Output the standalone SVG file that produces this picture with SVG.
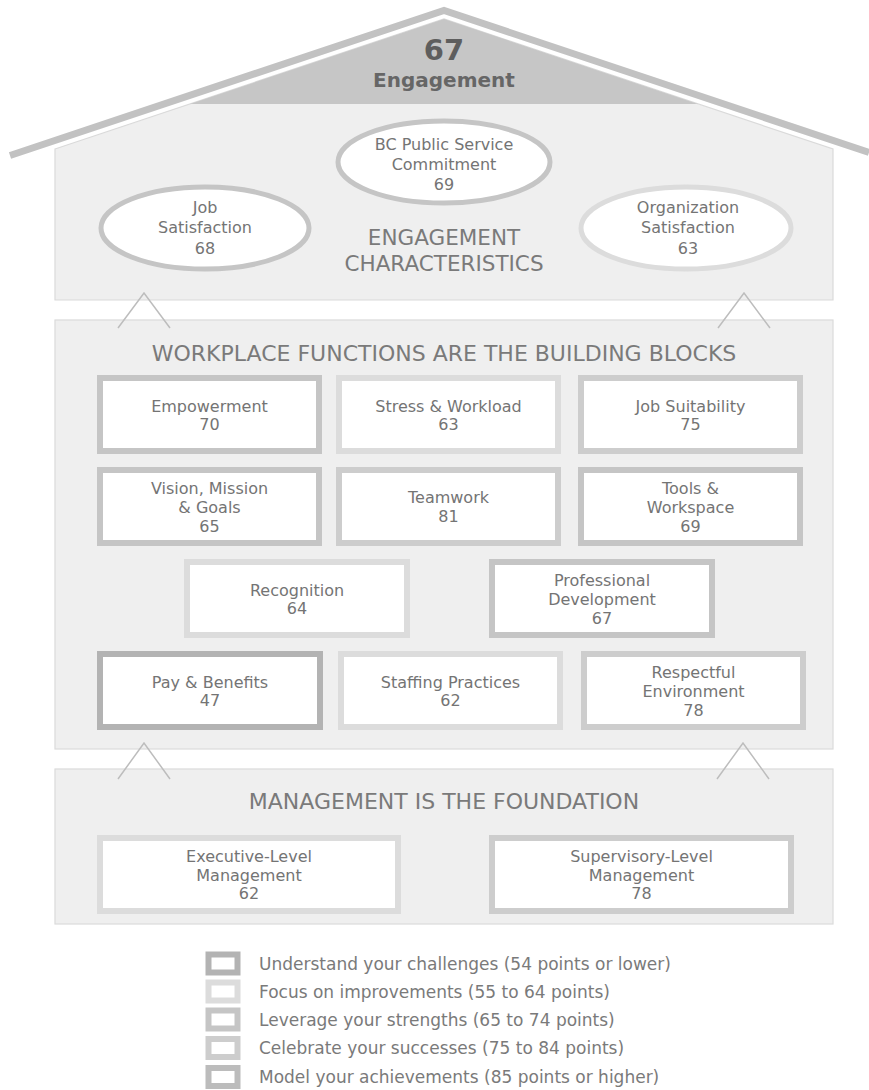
<svg xmlns="http://www.w3.org/2000/svg" width="869" height="1090" viewBox="0 0 869 1090">
<style>
.panel{fill:#efefef;stroke:#dadada;stroke-width:1.2}
.box{fill:#ffffff;stroke-width:6}
.ell{fill:#ffffff;stroke-width:5}
.U{stroke:#b3b3b3}.F{stroke:#dcdcdc}.L{stroke:#c5c5c5}.C{stroke:#cdcdcd}.M{stroke:#bcbcbc}
.t{font-family:"DejaVu Sans","Noto Sans",sans-serif;font-size:16px;fill:#747474;text-anchor:middle}
.h{font-family:"DejaVu Sans","Noto Sans",sans-serif;font-size:22px;fill:#7a7a7a;text-anchor:middle}
.lg{font-family:"DejaVu Sans","Noto Sans",sans-serif;font-size:17px;fill:#7a7a7a}
.chev{fill:none;stroke:#bdbdbd;stroke-width:1.5}
</style>
<rect width="869" height="1090" fill="#ffffff"/>
<g id="roof">
<polyline points="10,155.5 444,10.5 869,152.5" fill="none" stroke="#c2c2c2" stroke-width="7" stroke-linejoin="miter"/>
</g>
<g id="engagement-panel">
<polygon class="panel" points="55,149 444,19 833,149 833,300 55,300"/>
<polygon points="444,19 190,104 698,104" fill="#c6c6c6"/>
<text x="444" y="60" style="font-family:'DejaVu Sans',sans-serif;font-size:29px;font-weight:bold;fill:#5e5e5e;text-anchor:middle">67</text>
<text x="444" y="87" style="font-family:'DejaVu Sans',sans-serif;font-size:20px;font-weight:bold;fill:#666;text-anchor:middle">Engagement</text>
<text class="h" x="444" y="245" style="font-size:21.5px">ENGAGEMENT</text>
<text class="h" x="444" y="271" style="font-size:21.5px">CHARACTERISTICS</text>
</g>
<g id="bc-commitment">
<ellipse class="ell L" cx="444" cy="162" rx="106" ry="41"/>
<text class="t" x="444" y="150">BC Public Service</text>
<text class="t" x="444" y="170">Commitment</text>
<text class="t" x="444" y="190">69</text>
</g>
<g id="job-satisfaction">
<ellipse class="ell L" cx="205" cy="228" rx="104" ry="41"/>
<text class="t" x="205" y="213">Job</text>
<text class="t" x="205" y="233">Satisfaction</text>
<text class="t" x="205" y="254">68</text>
</g>
<g id="org-satisfaction">
<ellipse class="ell F" cx="686" cy="228" rx="105" ry="41"/>
<text class="t" x="688" y="213">Organization</text>
<text class="t" x="688" y="233">Satisfaction</text>
<text class="t" x="688" y="254">63</text>
</g>
<g id="workplace-panel">
<rect class="panel" x="55" y="320" width="778" height="429"/>
<text class="h" x="444" y="361">WORKPLACE FUNCTIONS ARE THE BUILDING BLOCKS</text>
</g>
<g id="empowerment">
<rect class="box L" x="100" y="378" width="219" height="73"/>
<text class="t" x="209.5" y="412">Empowerment</text>
<text class="t" x="209.5" y="430">70</text>
</g>
<g id="stress-workload">
<rect class="box F" x="339" y="378" width="219" height="73"/>
<text class="t" x="448.5" y="412">Stress &amp; Workload</text>
<text class="t" x="448.5" y="430">63</text>
</g>
<g id="job-suitability">
<rect class="box C" x="581" y="378" width="219" height="73"/>
<text class="t" x="690.5" y="412">Job Suitability</text>
<text class="t" x="690.5" y="430">75</text>
</g>
<g id="vision-mission-goals">
<rect class="box L" x="100" y="470" width="219" height="73"/>
<text class="t" x="209.5" y="494">Vision, Mission</text>
<text class="t" x="209.5" y="513">&amp; Goals</text>
<text class="t" x="209.5" y="532">65</text>
</g>
<g id="teamwork">
<rect class="box C" x="339" y="470" width="219" height="73"/>
<text class="t" x="448.5" y="503">Teamwork</text>
<text class="t" x="448.5" y="522">81</text>
</g>
<g id="tools-workspace">
<rect class="box L" x="581" y="470" width="219" height="73"/>
<text class="t" x="690.5" y="494">Tools &amp;</text>
<text class="t" x="690.5" y="513">Workspace</text>
<text class="t" x="690.5" y="532">69</text>
</g>
<g id="recognition">
<rect class="box F" x="187" y="562" width="220" height="73"/>
<text class="t" x="297" y="596">Recognition</text>
<text class="t" x="297" y="614">64</text>
</g>
<g id="professional-development">
<rect class="box L" x="492" y="562" width="220" height="73"/>
<text class="t" x="602" y="586">Professional</text>
<text class="t" x="602" y="605">Development</text>
<text class="t" x="602" y="624">67</text>
</g>
<g id="pay-benefits">
<rect class="box U" x="100" y="654" width="220" height="73"/>
<text class="t" x="210" y="688">Pay &amp; Benefits</text>
<text class="t" x="210" y="706">47</text>
</g>
<g id="staffing-practices">
<rect class="box F" x="341" y="654" width="219" height="73"/>
<text class="t" x="450.5" y="688">Staffing Practices</text>
<text class="t" x="450.5" y="706">62</text>
</g>
<g id="respectful-environment">
<rect class="box C" x="584" y="654" width="219" height="73"/>
<text class="t" x="693.5" y="678">Respectful</text>
<text class="t" x="693.5" y="697">Environment</text>
<text class="t" x="693.5" y="716">78</text>
</g>
<g id="management-panel">
<rect class="panel" x="55" y="769" width="778" height="155"/>
<text class="h" x="444" y="809">MANAGEMENT IS THE FOUNDATION</text>
</g>
<g id="executive-management">
<rect class="box F" x="100" y="838" width="298" height="73"/>
<text class="t" x="249" y="862">Executive-Level</text>
<text class="t" x="249" y="881">Management</text>
<text class="t" x="249" y="899">62</text>
</g>
<g id="supervisory-management">
<rect class="box C" x="492" y="838" width="299" height="73"/>
<text class="t" x="641.5" y="862">Supervisory-Level</text>
<text class="t" x="641.5" y="881">Management</text>
<text class="t" x="641.5" y="899">78</text>
</g>
<g id="connectors">
<polyline class="chev" points="118,328 144,293 170,328"/>
<polyline class="chev" points="718,328 744,293 770,328"/>
<polyline class="chev" points="118,779 144,743 170,779"/>
<polyline class="chev" points="717,779 743,743 769,779"/>
</g>
<g id="legend">
<rect class="box U" x="208.5" y="954.5" width="29" height="18" stroke-width="5"/>
<text class="lg" x="259" y="969.5">Understand your challenges (54 points or lower)</text>
<rect class="box F" x="208.5" y="982.5" width="29" height="18" stroke-width="5"/>
<text class="lg" x="259" y="997.5">Focus on improvements (55 to 64 points)</text>
<rect class="box L" x="208.5" y="1010.5" width="29" height="18" stroke-width="5"/>
<text class="lg" x="259" y="1025.5">Leverage your strengths (65 to 74 points)</text>
<rect class="box C" x="208.5" y="1039" width="29" height="18" stroke-width="5"/>
<text class="lg" x="259" y="1054">Celebrate your successes (75 to 84 points)</text>
<rect class="box M" x="208.5" y="1068" width="29" height="18" stroke-width="5"/>
<text class="lg" x="259" y="1083">Model your achievements (85 points or higher)</text>
</g>
</svg>
